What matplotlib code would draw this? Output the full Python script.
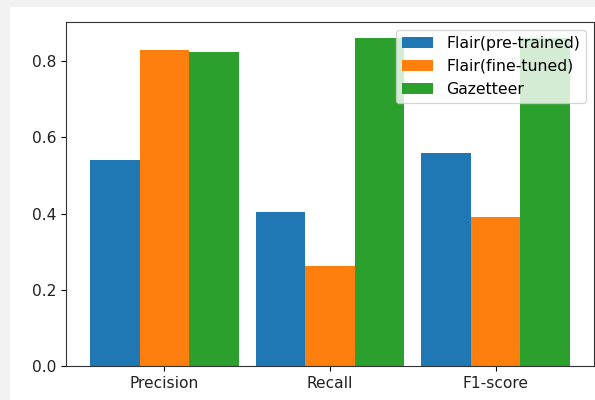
import matplotlib
matplotlib.use("Agg")
import matplotlib.pyplot as plt
import numpy as np
from matplotlib.patches import Rectangle

categories = ["Precision", "Recall", "F1-score"]
series_names = ["Flair(pre-trained)", "Flair(fine-tuned)", "Gazetteer"]
flair_pre = [0.54, 0.405, 0.56]
flair_fine = [0.83, 0.263, 0.39]
gazetteer = [0.823, 0.86, 0.86]
colors = ["#1f77b4", "#ff7f0e", "#2ca02c"]

fig = plt.figure(figsize=(5.95, 4.0), dpi=100)
fig.patch.set_facecolor("#f2f2f2")
fig.patches.append(Rectangle((10/595, 0), 1, 1 - 7/400, transform=fig.transFigure,
                             facecolor="white", edgecolor="none", zorder=-10))
ax = fig.add_axes([66/595, 34/400, (594-66)/595, (366-22)/400])

x = np.arange(len(categories))
w = 0.3
for i, (vals, name) in enumerate(zip([flair_pre, flair_fine, gazetteer], series_names)):
    ax.bar(x + (i - 1) * w, vals, w, label=name, color=colors[i])

ax.set_xticks(x)
ax.set_xticklabels(categories)
ax.tick_params(labelsize=11.2, labelcolor="#222222")
for s in ax.spines.values():
    s.set_color("#333333")
ax.legend(loc="upper right", fontsize=11.3)
fig.savefig("out.png", dpi=100, facecolor=fig.get_facecolor())
